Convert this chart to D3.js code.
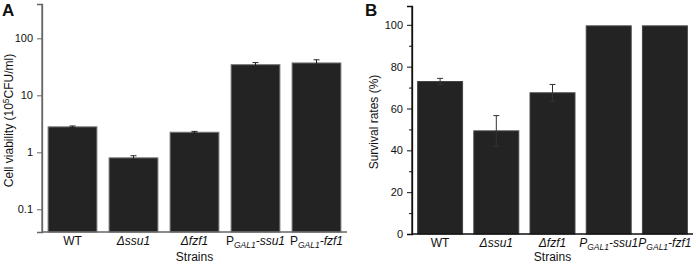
<!DOCTYPE html>
<html>
<head>
<meta charset="utf-8">
<script src="https://cdn.jsdelivr.net/npm/d3@7"></script>
<style>
  body { margin: 0; background: #fff; }
  svg text { font-family: "Liberation Sans", Arial, sans-serif; }
</style>
</head>
<body>
<div id="wrapper"></div>
<script>
const BAR_COLOR = "#232323";

// strains (same for both panels)
const strains = ["WT", "ssu1", "fzf1", "Pssu1", "Pfzf1"];

// panel A: cell viability (10^5 CFU/ml), log scale
const viability = [2.8, 0.8, 2.25, 34.5, 37];
const viabilityErr = [0.1, 0.07, 0.08, 3, 5];
const viabilityTicks = [0.1, 1, 10, 100];

// panel B: survival rates (%)
const survival = [72.9, 49.3, 67.5, 99.5, 99.5];
const survivalErr = [1.5, 7.3, 4, 0, 0];
const survivalTicks = [0, 20, 40, 60, 80, 100];
const survivalMinor = [10, 30, 50, 70, 90];

const svg = d3.select("#wrapper")
  .append("svg")
  .attr("width", 696)
  .attr("height", 264);

// category label with italic parts and subscript
function strainLabel(sel, d, italicP) {
  if (d === "WT") {
    sel.append("tspan").text("WT");
  } else if (d === "ssu1" || d === "fzf1") {
    sel.append("tspan").text("\u0394" + d).style("font-style", "italic");
  } else {
    sel.append("tspan").text("P").style("font-style", italicP ? "italic" : "normal");
    sel.append("tspan").text("GAL1").attr("font-size", "8.5px").attr("dy", 3).style("font-style", "italic");
    sel.append("tspan").text("-" + d.slice(1)).attr("dy", -3).style("font-style", "italic");
  }
}

function drawPanel(opts) {
  const g = svg.append("g");
  const x = d3.scaleBand()
    .domain(strains)
    .range([opts.left, opts.right])
    .paddingInner(0.2)
    .paddingOuter(0.1);
  const y = opts.yScale;

  // bars
  g.selectAll("rect.bar")
    .data(strains)
    .enter().append("rect")
    .attr("x", d => x(d))
    .attr("width", x.bandwidth())
    .attr("y", (d, i) => y(opts.values[i]))
    .attr("height", (d, i) => opts.bottom - y(opts.values[i]))
    .attr("fill", BAR_COLOR)
    .attr("stroke", opts.barStroke)
    .attr("stroke-width", 1);

  // error bars
  const errs = strains.map((d, i) => ({ d, v: opts.values[i], e: opts.errors[i] })).filter(o => o.e > 0);
  const eg = g.selectAll("g.err").data(errs).enter().append("g")
    .attr("stroke", opts.errColor)
    .attr("stroke-width", 1);
  eg.append("line")
    .attr("x1", o => x(o.d) + x.bandwidth() / 2)
    .attr("x2", o => x(o.d) + x.bandwidth() / 2)
    .attr("y1", o => y(o.v + o.e))
    .attr("y2", o => y(Math.max(o.v - o.e, 1e-3)));
  eg.append("line")
    .attr("x1", o => x(o.d) + x.bandwidth() / 2 - 3)
    .attr("x2", o => x(o.d) + x.bandwidth() / 2 + 3)
    .attr("y1", o => y(o.v + o.e))
    .attr("y2", o => y(o.v + o.e));
  eg.append("line")
    .attr("x1", o => x(o.d) + x.bandwidth() / 2 - 3)
    .attr("x2", o => x(o.d) + x.bandwidth() / 2 + 3)
    .attr("y1", o => y(o.v - o.e))
    .attr("y2", o => y(o.v - o.e));

  // y axis
  const yAxis = g.append("g")
    .attr("transform", `translate(${opts.left},0)`)
    .call(d3.axisLeft(y).tickValues(opts.ticks).tickFormat(d => String(d)).tickSizeOuter(0).tickSize(5).tickPadding(4));
  yAxis.select(".domain").attr("stroke", opts.axisColor).attr("stroke-width", 1.3);
  yAxis.selectAll(".tick line").attr("stroke", opts.axisColor);
  yAxis.selectAll(".tick text").attr("font-size", "11px").attr("fill", "#111")
    .style("font-family", "'Liberation Sans', Arial, sans-serif");
  if (opts.minor) {
    g.append("g")
      .attr("transform", `translate(${opts.left},0)`)
      .call(d3.axisLeft(y).tickValues(opts.minor).tickFormat("").tickSize(3))
      .call(a => a.select(".domain").remove())
      .selectAll(".tick line").attr("stroke", opts.axisColor);
  }
  // extend y axis line to top
  g.append("line")
    .attr("x1", opts.left).attr("x2", opts.left)
    .attr("y1", opts.top).attr("y2", opts.bottom)
    .attr("stroke", opts.axisColor).attr("stroke-width", 1.3);

  // x axis
  g.append("line")
    .attr("x1", opts.left).attr("x2", opts.right)
    .attr("y1", opts.bottom).attr("y2", opts.bottom)
    .attr("stroke", opts.axisColor).attr("stroke-width", 1.3);

  g.selectAll("text.cat")
    .data(strains)
    .enter().append("text")
    .attr("class", "cat")
    .attr("x", d => x(d) + x.bandwidth() / 2)
    .attr("y", opts.bottom + 13)
    .attr("text-anchor", "middle")
    .attr("font-size", "12px")
    .attr("fill", "#111")
    .each(function (d) { strainLabel(d3.select(this), d, opts.italicP); });

  g.append("text")
    .attr("x", (opts.left + opts.right) / 2)
    .attr("y", 261)
    .attr("text-anchor", "middle")
    .attr("font-size", "12px")
    .attr("fill", "#111")
    .text("Strains");

  const yl = g.append("text")
    .attr("transform", `translate(${opts.ylabelX},${(opts.top + opts.bottom) / 2 + 2}) rotate(-90)`)
    .attr("text-anchor", "middle")
    .attr("font-size", "12px")
    .attr("fill", "#111");
  opts.ylabel(yl);

  g.append("text")
    .attr("x", opts.tagX)
    .attr("y", 16)
    .attr("font-size", "17px")
    .attr("font-weight", "bold")
    .attr("fill", "#111")
    .text(opts.tag);
}

drawPanel({
  left: 42, right: 347, top: 5, bottom: 232,
  yScale: d3.scaleLog().domain([0.04, 400]).range([232, 4]),
  values: viability, errors: viabilityErr, ticks: viabilityTicks,
  axisColor: "#666", barStroke: "#777", errColor: "#222",
  italicP: false,
  ylabelX: 13,
  ylabel: t => {
    t.append("tspan").text("Cell viability (10");
    t.append("tspan").text("5").attr("font-size", "8.5px").attr("dy", -4);
    t.append("tspan").text("CFU/ml)").attr("dy", 4);
  },
  tag: "A", tagX: 2
});

drawPanel({
  left: 412, right: 693, top: 6, bottom: 234,
  yScale: d3.scaleLinear().domain([0, 109]).range([234, 6]),
  values: survival, errors: survivalErr, ticks: survivalTicks, minor: survivalMinor,
  axisColor: "#111", barStroke: "#444", errColor: "#333",
  italicP: true,
  ylabelX: 378,
  ylabel: t => t.text("Survival rates (%)"),
  tag: "B", tagX: 365
});
</script>
</body>
</html>
